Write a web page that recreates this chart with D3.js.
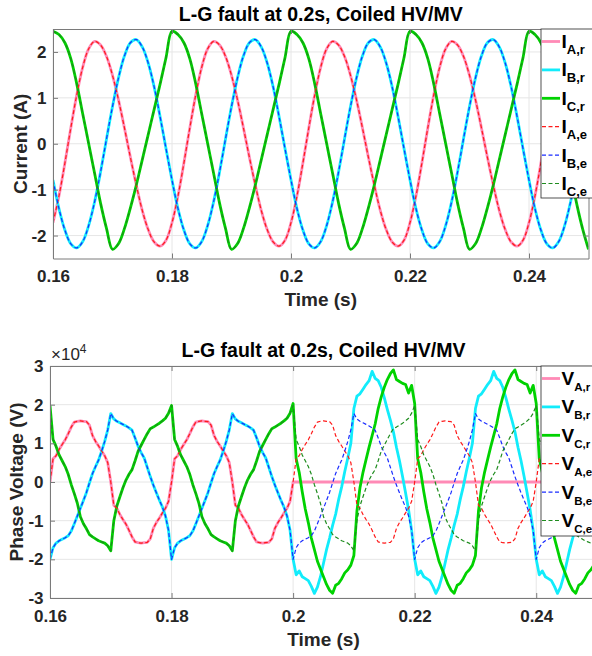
<!DOCTYPE html>
<html>
<head>
<meta charset="utf-8">
<script src="https://cdn.jsdelivr.net/npm/d3@7"></script>
<style>
  body { margin: 0; background: #fff; }
  svg { display: block; }
</style>
</head>
<body>
<div id="chart"></div>
<script>
// ---------- data ----------
let xTicks = [0.16, 0.18, 0.2, 0.22, 0.24];
let currentTicks = [-2, -1, 0, 1, 2];
let voltageTicks = [-3, -2, -1, 0, 1, 2, 3];

// sample grids: currents every 1 ms, voltages every 0.5 ms (0.16 .. 0.25 s)
let tCurrent = d3.range(160, 251).map(d => d / 1000);
let tVoltage = d3.range(320, 501).map(d => d / 2000);

// phase currents (A)
let iAr = [
  -1.72, -1.14, -0.42, 0.35, 1.07, 1.67, 2.07, 2.23, 2.15, 1.90, 1.49, 0.96, 0.35, -0.29, -0.90, -1.45, -1.87, -2.14, -2.23, -2.10,
  -1.72, -1.14, -0.42, 0.35, 1.07, 1.67, 2.07, 2.23, 2.15, 1.90, 1.49, 0.96, 0.35, -0.29, -0.90, -1.45, -1.87, -2.14, -2.23, -2.10,
  -1.72, -1.14, -0.42, 0.35, 1.07, 1.67, 2.07, 2.23, 2.15, 1.90, 1.49, 0.96, 0.35, -0.29, -0.90, -1.45, -1.87, -2.14, -2.23, -2.10,
  -1.72, -1.14, -0.42, 0.35, 1.07, 1.67, 2.07, 2.23, 2.15, 1.90, 1.49, 0.96, 0.35, -0.29, -0.90, -1.45, -1.87, -2.14, -2.23, -2.10,
  -1.72, -1.14, -0.42, 0.35, 1.07, 1.67, 2.07, 2.23, 2.15, 1.90, 1.49
];
let iBr = [
  -0.79, -1.41, -1.88, -2.18, -2.27, -2.13, -1.78, -1.26, -0.61, 0.11, 0.81, 1.43, 1.91, 2.20, 2.27, 2.11, 1.76, 1.24, 0.59, -0.11,
  -0.79, -1.41, -1.88, -2.18, -2.27, -2.13, -1.78, -1.26, -0.61, 0.11, 0.81, 1.43, 1.91, 2.20, 2.27, 2.11, 1.76, 1.24, 0.59, -0.11,
  -0.79, -1.41, -1.88, -2.18, -2.27, -2.13, -1.78, -1.26, -0.61, 0.11, 0.81, 1.43, 1.91, 2.20, 2.27, 2.11, 1.76, 1.24, 0.59, -0.11,
  -0.79, -1.41, -1.88, -2.18, -2.27, -2.13, -1.78, -1.26, -0.61, 0.11, 0.81, 1.43, 1.91, 2.20, 2.27, 2.11, 1.76, 1.24, 0.59, -0.11,
  -0.79, -1.41, -1.88, -2.18, -2.27, -2.13, -1.78, -1.26, -0.61, 0.11, 0.81
];
let iCr = [
  2.45, 2.38, 2.20, 1.85, 1.30, 0.65, 0.00, -0.65, -1.30, -1.85, -2.30, -2.18, -1.85, -1.40, -0.90, -0.35, 0.20, 0.75, 1.30, 1.88,
  2.45, 2.38, 2.20, 1.85, 1.30, 0.65, 0.00, -0.65, -1.30, -1.85, -2.30, -2.18, -1.85, -1.40, -0.90, -0.35, 0.20, 0.75, 1.30, 1.88,
  2.45, 2.38, 2.20, 1.85, 1.30, 0.65, 0.00, -0.65, -1.30, -1.85, -2.30, -2.18, -1.85, -1.40, -0.90, -0.35, 0.20, 0.75, 1.30, 1.88,
  2.45, 2.38, 2.20, 1.85, 1.30, 0.65, 0.00, -0.65, -1.30, -1.85, -2.30, -2.18, -1.85, -1.40, -0.90, -0.35, 0.20, 0.75, 1.30, 1.88,
  2.45, 2.38, 2.20, 1.85, 1.30, 0.65, 0.00, -0.65, -1.30, -1.85, -2.30
];
// the estimated currents sit right on top of the measured ones
let iAe = iAr, iBe = iBr, iCe = iCr;

// phase voltages (x 1e4 V), estimated = healthy waveform
let vAe = [
  0.00, 0.60, 0.68, 0.84, 0.97, 1.09, 1.25, 1.42, 1.55, 1.57, 1.58, 1.57, 1.56, 1.47, 1.20, 1.05, 0.93, 0.80, 0.68, 0.50,
  0.00, -0.60, -0.68, -0.84, -0.97, -1.09, -1.25, -1.42, -1.55, -1.57, -1.58, -1.57, -1.56, -1.47, -1.20, -1.05, -0.93, -0.80, -0.68, -0.50,
  0.00, 0.60, 0.68, 0.84, 0.97, 1.09, 1.25, 1.42, 1.55, 1.57, 1.58, 1.57, 1.56, 1.47, 1.20, 1.05, 0.93, 0.80, 0.68, 0.50,
  0.00, -0.60, -0.68, -0.84, -0.97, -1.09, -1.25, -1.42, -1.55, -1.57, -1.58, -1.57, -1.56, -1.47, -1.20, -1.05, -0.93, -0.80, -0.68, -0.50,
  0.00, 0.60, 0.68, 0.84, 0.97, 1.09, 1.25, 1.42, 1.55, 1.57, 1.58, 1.57, 1.56, 1.47, 1.20, 1.05, 0.93, 0.80, 0.68, 0.50,
  0.00, -0.60, -0.68, -0.84, -0.97, -1.09, -1.25, -1.42, -1.55, -1.57, -1.58, -1.57, -1.56, -1.47, -1.20, -1.05, -0.93, -0.80, -0.68, -0.50,
  0.00, 0.60, 0.68, 0.84, 0.97, 1.09, 1.25, 1.42, 1.55, 1.57, 1.58, 1.57, 1.56, 1.47, 1.20, 1.05, 0.93, 0.80, 0.68, 0.50,
  0.00, -0.60, -0.68, -0.84, -0.97, -1.09, -1.25, -1.42, -1.55, -1.57, -1.58, -1.57, -1.56, -1.47, -1.20, -1.05, -0.93, -0.80, -0.68, -0.50,
  0.00, 0.60, 0.68, 0.84, 0.97, 1.09, 1.25, 1.42, 1.55, 1.57, 1.58, 1.57, 1.56, 1.47, 1.20, 1.05, 0.93, 0.80, 0.68, 0.50,
  0.00
];
let vBe = [
  -2.00, -1.70, -1.58, -1.52, -1.48, -1.44, -1.39, -1.27, -1.08, -0.88, -0.68, -0.48, -0.27, -0.02, 0.22, 0.40, 0.57, 0.80, 1.05, 1.35,
  1.77, 1.63, 1.57, 1.53, 1.49, 1.45, 1.40, 1.34, 1.14, 0.92, 0.76, 0.62, 0.38, 0.14, -0.08, -0.28, -0.47, -0.65, -0.88, -1.25,
  -2.00, -1.70, -1.58, -1.52, -1.48, -1.44, -1.39, -1.27, -1.08, -0.88, -0.68, -0.48, -0.27, -0.02, 0.22, 0.40, 0.57, 0.80, 1.05, 1.35,
  1.77, 1.63, 1.57, 1.53, 1.49, 1.45, 1.40, 1.34, 1.14, 0.92, 0.76, 0.62, 0.38, 0.14, -0.08, -0.28, -0.47, -0.65, -0.88, -1.25,
  -2.00, -1.70, -1.58, -1.52, -1.48, -1.44, -1.39, -1.27, -1.08, -0.88, -0.68, -0.48, -0.27, -0.02, 0.22, 0.40, 0.57, 0.80, 1.05, 1.35,
  1.77, 1.63, 1.57, 1.53, 1.49, 1.45, 1.40, 1.34, 1.14, 0.92, 0.76, 0.62, 0.38, 0.14, -0.08, -0.28, -0.47, -0.65, -0.88, -1.25,
  -2.00, -1.70, -1.58, -1.52, -1.48, -1.44, -1.39, -1.27, -1.08, -0.88, -0.68, -0.48, -0.27, -0.02, 0.22, 0.40, 0.57, 0.80, 1.05, 1.35,
  1.77, 1.63, 1.57, 1.53, 1.49, 1.45, 1.40, 1.34, 1.14, 0.92, 0.76, 0.62, 0.38, 0.14, -0.08, -0.28, -0.47, -0.65, -0.88, -1.25,
  -2.00, -1.70, -1.58, -1.52, -1.48, -1.44, -1.39, -1.27, -1.08, -0.88, -0.68, -0.48, -0.27, -0.02, 0.22, 0.40, 0.57, 0.80, 1.05, 1.35,
  1.77
];
let vCe = [
  1.98, 1.10, 0.92, 0.70, 0.55, 0.40, 0.20, -0.07, -0.30, -0.55, -0.90, -1.08, -1.21, -1.36, -1.42, -1.47, -1.52, -1.55, -1.58, -1.65,
  -1.78, -1.00, -0.62, -0.38, -0.15, 0.05, 0.20, 0.32, 0.55, 0.80, 0.95, 1.10, 1.25, 1.38, 1.42, 1.47, 1.52, 1.58, 1.65, 1.78,
  1.98, 1.10, 0.92, 0.70, 0.55, 0.40, 0.20, -0.07, -0.30, -0.55, -0.90, -1.08, -1.21, -1.36, -1.42, -1.47, -1.52, -1.55, -1.58, -1.65,
  -1.78, -1.00, -0.62, -0.38, -0.15, 0.05, 0.20, 0.32, 0.55, 0.80, 0.95, 1.10, 1.25, 1.38, 1.42, 1.47, 1.52, 1.58, 1.65, 1.78,
  1.98, 1.10, 0.92, 0.70, 0.55, 0.40, 0.20, -0.07, -0.30, -0.55, -0.90, -1.08, -1.21, -1.36, -1.42, -1.47, -1.52, -1.55, -1.58, -1.65,
  -1.78, -1.00, -0.62, -0.38, -0.15, 0.05, 0.20, 0.32, 0.55, 0.80, 0.95, 1.10, 1.25, 1.38, 1.42, 1.47, 1.52, 1.58, 1.65, 1.78,
  1.98, 1.10, 0.92, 0.70, 0.55, 0.40, 0.20, -0.07, -0.30, -0.55, -0.90, -1.08, -1.21, -1.36, -1.42, -1.47, -1.52, -1.55, -1.58, -1.65,
  -1.78, -1.00, -0.62, -0.38, -0.15, 0.05, 0.20, 0.32, 0.55, 0.80, 0.95, 1.10, 1.25, 1.38, 1.42, 1.47, 1.52, 1.58, 1.65, 1.78,
  1.98, 1.10, 0.92, 0.70, 0.55, 0.40, 0.20, -0.07, -0.30, -0.55, -0.90, -1.08, -1.21, -1.36, -1.42, -1.47, -1.52, -1.55, -1.58, -1.65,
  -1.78
];
// measured voltages: phase A collapses to zero at the fault, B and C swell
let vAr = [
  0.00, 0.60, 0.68, 0.84, 0.97, 1.09, 1.25, 1.42, 1.55, 1.57, 1.58, 1.57, 1.56, 1.47, 1.20, 1.05, 0.93, 0.80, 0.68, 0.50,
  0.00, -0.60, -0.68, -0.84, -0.97, -1.09, -1.25, -1.42, -1.55, -1.57, -1.58, -1.57, -1.56, -1.47, -1.20, -1.05, -0.93, -0.80, -0.68, -0.50,
  0.00, 0.60, 0.68, 0.84, 0.97, 1.09, 1.25, 1.42, 1.55, 1.57, 1.58, 1.57, 1.56, 1.47, 1.20, 1.05, 0.93, 0.80, 0.68, 0.50,
  0.00, -0.60, -0.68, -0.84, -0.97, -1.09, -1.25, -1.42, -1.55, -1.57, -1.58, -1.57, -1.56, -1.47, -1.20, -1.05, -0.93, -0.80, -0.68, -0.50,
  0, 0, 0, 0, 0, 0, 0, 0, 0, 0, 0, 0, 0, 0, 0, 0, 0, 0, 0, 0,
  0, 0, 0, 0, 0, 0, 0, 0, 0, 0, 0, 0, 0, 0, 0, 0, 0, 0, 0, 0,
  0, 0, 0, 0, 0, 0, 0, 0, 0, 0, 0, 0, 0, 0, 0, 0, 0, 0, 0, 0,
  0, 0, 0, 0, 0, 0, 0, 0, 0, 0, 0, 0, 0, 0, 0, 0, 0, 0, 0, 0,
  0, 0, 0, 0, 0, 0, 0, 0, 0, 0, 0, 0, 0, 0, 0, 0, 0, 0, 0, 0,
  0
];
let vBr = [
  -2.00, -1.70, -1.58, -1.52, -1.48, -1.44, -1.39, -1.27, -1.08, -0.88, -0.68, -0.48, -0.27, -0.02, 0.22, 0.40, 0.57, 0.80, 1.05, 1.35,
  1.77, 1.63, 1.57, 1.53, 1.49, 1.45, 1.40, 1.34, 1.14, 0.92, 0.76, 0.62, 0.38, 0.14, -0.08, -0.28, -0.47, -0.65, -0.88, -1.25,
  -2.00, -1.70, -1.58, -1.52, -1.48, -1.44, -1.39, -1.27, -1.08, -0.88, -0.68, -0.48, -0.27, -0.02, 0.22, 0.40, 0.57, 0.80, 1.05, 1.35,
  1.77, 1.63, 1.57, 1.53, 1.49, 1.45, 1.40, 1.34, 1.14, 0.92, 0.76, 0.62, 0.38, 0.14, -0.08, -0.28, -0.47, -0.65, -0.88, -1.25,
  -2.00, -2.40, -2.30, -2.45, -2.50, -2.55, -2.70, -2.88, -2.72, -2.45, -2.10, -1.75, -1.45, -1.12, -0.83, -0.45, -0.12, 0.27, 0.62, 1.00,
  1.90, 2.22, 2.28, 2.40, 2.52, 2.62, 2.86, 2.68, 2.62, 2.45, 2.18, 1.88, 1.60, 1.30, 0.90, 0.55, 0.15, -0.28, -0.72, -1.25,
  -2.00, -2.40, -2.30, -2.45, -2.50, -2.55, -2.70, -2.88, -2.72, -2.45, -2.10, -1.75, -1.45, -1.12, -0.83, -0.45, -0.12, 0.27, 0.62, 1.00,
  1.90, 2.22, 2.28, 2.40, 2.52, 2.62, 2.86, 2.68, 2.62, 2.45, 2.18, 1.88, 1.60, 1.30, 0.90, 0.55, 0.15, -0.28, -0.72, -1.25,
  -2.00, -2.40, -2.30, -2.45, -2.50, -2.55, -2.70, -2.88, -2.72, -2.45, -2.10, -1.75, -1.45, -1.12, -0.83, -0.45, -0.12, 0.27, 0.62, 1.00,
  1.90
];
let vCr = [
  1.98, 1.10, 0.92, 0.70, 0.55, 0.40, 0.20, -0.07, -0.30, -0.55, -0.90, -1.08, -1.21, -1.36, -1.42, -1.47, -1.52, -1.55, -1.58, -1.65,
  -1.78, -1.00, -0.62, -0.38, -0.15, 0.05, 0.20, 0.32, 0.55, 0.80, 0.95, 1.10, 1.25, 1.38, 1.42, 1.47, 1.52, 1.58, 1.65, 1.78,
  1.98, 1.10, 0.92, 0.70, 0.55, 0.40, 0.20, -0.07, -0.30, -0.55, -0.90, -1.08, -1.21, -1.36, -1.42, -1.47, -1.52, -1.55, -1.58, -1.65,
  -1.78, -1.00, -0.62, -0.38, -0.15, 0.05, 0.20, 0.32, 0.55, 0.80, 0.95, 1.10, 1.25, 1.38, 1.42, 1.47, 1.52, 1.58, 1.65, 1.78,
  2.03, 0.60, 0.25, -0.25, -0.70, -1.05, -1.45, -1.75, -2.05, -2.25, -2.45, -2.65, -2.80, -2.88, -2.67, -2.62, -2.50, -2.35, -2.27, -2.15,
  -1.90, -0.75, -0.15, 0.25, 0.58, 0.90, 1.20, 1.50, 1.90, 2.20, 2.45, 2.65, 2.80, 2.90, 2.65, 2.60, 2.55, 2.52, 2.30, 2.50,
  2.03, 0.60, 0.25, -0.25, -0.70, -1.05, -1.45, -1.75, -2.05, -2.25, -2.45, -2.65, -2.80, -2.88, -2.67, -2.62, -2.50, -2.35, -2.27, -2.15,
  -1.90, -0.75, -0.15, 0.25, 0.58, 0.90, 1.20, 1.50, 1.90, 2.20, 2.45, 2.65, 2.80, 2.90, 2.65, 2.60, 2.55, 2.52, 2.30, 2.50,
  2.03, 0.60, 0.25, -0.25, -0.70, -1.05, -1.45, -1.75, -2.05, -2.25, -2.45, -2.65, -2.80, -2.88, -2.67, -2.62, -2.50, -2.35, -2.27, -2.15,
  -1.90
];

let phaseNames = ["A,r", "B,r", "C,r", "A,e", "B,e", "C,e"];
let lineColors = ["#ff8ab6", "#12ecfb", "#00d200", "#ff1a1a", "#1a2cff", "#1e8c1e"];

// ---------- drawing ----------
const font = "'Liberation Sans', Arial, Helvetica, sans-serif";
const axisColor = "#7a7a7a";
const gridColor = "#e6e6e6";
const textColor = "#262626";

let svg = d3.select("#chart")
  .append("svg")
  .attr("width", 592)
  .attr("height", 656)
  .attr("font-family", font);

function drawPanel(p) {
  let x = d3.scaleLinear().domain([0.16, 0.25]).range([p.left, p.right]);
  let y = d3.scaleLinear().domain(p.yDomain).range([p.bottom, p.top]);
  let g = svg.append("g");

  g.append("clipPath").attr("id", "clip-" + p.id)
    .append("rect")
    .attr("x", p.left).attr("y", p.top)
    .attr("width", p.right - p.left).attr("height", p.bottom - p.top);

  // grid
  g.append("g").selectAll("line").data(xTicks).join("line")
    .attr("x1", d => x(d)).attr("x2", d => x(d))
    .attr("y1", p.top).attr("y2", p.bottom)
    .attr("stroke", gridColor);
  g.append("g").selectAll("line").data(p.yTicks).join("line")
    .attr("x1", p.left).attr("x2", p.right)
    .attr("y1", d => y(d)).attr("y2", d => y(d))
    .attr("stroke", gridColor);

  // series: measured first, estimates dashed on top
  let line = d3.line()
    .x((d, i) => x(p.time[i]))
    .y(d => y(d))
    .curve(p.curve);
  let plot = g.append("g").attr("clip-path", `url(#clip-${p.id})`);
  p.series.forEach((s, i) => {
    plot.append("path")
      .datum(s)
      .attr("d", line)
      .attr("fill", "none")
      .attr("stroke", lineColors[i])
      .attr("stroke-width", i < 3 ? 2.8 : 1.2)
      .attr("stroke-dasharray", i < 3 ? null : "4,2.5")
      .attr("stroke-linejoin", "round");
  });

  // axes
  let styleAxis = a => {
    a.attr("font-family", font).attr("font-size", 17).attr("font-weight", "bold");
    a.select(".domain").attr("stroke", axisColor);
    a.selectAll(".tick line").attr("stroke", axisColor);
    a.selectAll(".tick text").attr("fill", textColor);
  };
  g.append("g")
    .attr("transform", `translate(0,${p.bottom})`)
    .call(d3.axisBottom(x).tickValues(xTicks).tickFormat(d3.format("~g"))
      .tickSizeInner(-5).tickSizeOuter(0).tickPadding(11.5))
    .call(styleAxis);
  g.append("g")
    .attr("transform", `translate(${p.left},0)`)
    .call(d3.axisLeft(y).tickValues(p.yTicks).tickFormat(d => d)
      .tickSizeInner(-5).tickSizeOuter(0).tickPadding(6.5))
    .call(styleAxis);
  g.append("g")
    .attr("transform", `translate(0,${p.top})`)
    .call(d3.axisTop(x).tickValues(xTicks).tickFormat("").tickSizeInner(-5).tickSizeOuter(0))
    .call(styleAxis);
  g.append("g")
    .attr("transform", `translate(${p.right},0)`)
    .call(d3.axisRight(y).tickValues(p.yTicks).tickFormat("").tickSizeInner(-5).tickSizeOuter(0))
    .call(styleAxis);

  // title and labels
  let cx = (p.left + p.right) / 2;
  g.append("text")
    .attr("x", cx).attr("y", p.titleY)
    .attr("text-anchor", "middle")
    .attr("font-size", 19.5).attr("font-weight", "bold").attr("fill", "#000")
    .text("L-G fault at 0.2s, Coiled HV/MV");
  g.append("text")
    .attr("x", cx).attr("y", p.xLabelY)
    .attr("text-anchor", "middle")
    .attr("font-size", 19).attr("font-weight", "bold").attr("fill", textColor)
    .text("Time (s)");
  g.append("text")
    .attr("transform", `translate(${p.yLabelX},${(p.top + p.bottom) / 2}) rotate(-90)`)
    .attr("text-anchor", "middle")
    .attr("font-size", 19).attr("font-weight", "bold").attr("fill", textColor)
    .text(p.yLabel);

  // legend
  let lg = g.append("g");
  lg.append("rect")
    .attr("x", 541).attr("y", p.top)
    .attr("width", 70).attr("height", p.legendBottom - p.top)
    .attr("fill", "#fff").attr("stroke", "#262626").attr("stroke-width", 0.8);
  phaseNames.forEach((name, i) => {
    let ly = p.top + 12.5 + i * 28.4;
    lg.append("line")
      .attr("x1", 542).attr("x2", 560).attr("y1", ly).attr("y2", ly)
      .attr("stroke", lineColors[i])
      .attr("stroke-width", i < 3 ? 2.8 : 1.2)
      .attr("stroke-dasharray", i < 3 ? null : "4,2.5");
    let t = lg.append("text")
      .attr("x", 561.5).attr("y", ly + 6.5)
      .attr("font-size", 19).attr("font-weight", "bold").attr("fill", "#000");
    t.append("tspan").text(p.symbol);
    t.append("tspan").attr("font-size", p.subSize).attr("dy", 6).text(name);
  });
}

function drawCurrentPlot() {
  drawPanel({
    id: "current", left: 53, right: 588.5, top: 29, bottom: 258.5,
    yDomain: [-2.5, 2.5], yTicks: currentTicks,
    time: tCurrent, curve: d3.curveCatmullRom,
    series: [iAr, iBr, iCr, iAe, iBe, iCe],
    titleY: 21, xLabelY: 306, yLabelX: 27, yLabel: "Current (A)",
    symbol: "I", subSize: 13, legendBottom: 198
  });
}

function drawVoltagePlot() {
  drawPanel({
    id: "voltage", left: 50, right: 597, top: 366, bottom: 598,
    yDomain: [-3, 3], yTicks: voltageTicks,
    time: tVoltage, curve: d3.curveLinear,
    series: [vAr, vBr, vCr, vAe, vBe, vCe],
    titleY: 357, xLabelY: 646, yLabelX: 23, yLabel: "Phase Voltage (V)",
    symbol: "V", subSize: 11.5, legendBottom: 536
  });
  // exponent label of the y axis
  let e = svg.append("text")
    .attr("x", 51).attr("y", 360)
    .attr("font-size", 17).attr("fill", textColor);
  e.append("tspan").text("\u00d710");
  e.append("tspan").attr("font-size", 12).attr("dy", -7).text("4");
}

drawCurrentPlot();
drawVoltagePlot();
</script>
</body>
</html>
